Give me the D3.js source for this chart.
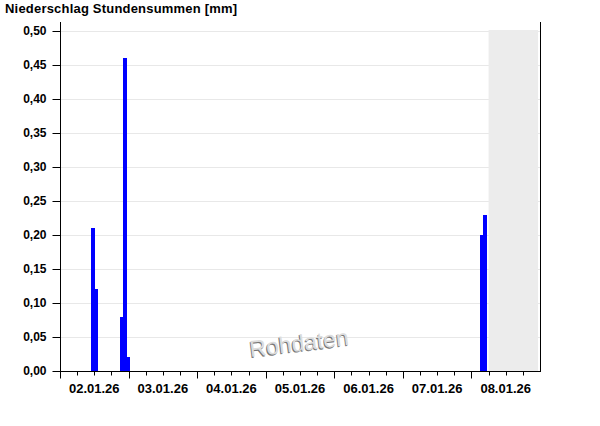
<!DOCTYPE html>
<meta charset="utf-8">
<style>
    body { margin: 0; background: #fff; }
    text { font-family: "Liberation Sans", Arial, sans-serif; font-weight: bold; fill: #000; }
</style>
<body>
<script src="https://cdn.jsdelivr.net/npm/d3@7"></script>
<script>
    // data
    var dayLabels = ["02.01.26", "03.01.26", "04.01.26", "05.01.26", "06.01.26", "07.01.26", "08.01.26"];
    var barTimes = ["2026-01-02T11:00Z", "2026-01-02T12:00Z", "2026-01-02T21:00Z", "2026-01-02T22:00Z",
                    "2026-01-02T23:00Z", "2026-01-08T03:00Z", "2026-01-08T04:00Z"];
    var barValues = [0.21, 0.12, 0.08, 0.46, 0.02, 0.20, 0.23];
    var yTicks = [0, 0.05, 0.10, 0.15, 0.20, 0.25, 0.30, 0.35, 0.40, 0.45, 0.50];
    var domainStart = "2026-01-02T00:00Z", domainEnd = "2026-01-09T00:00Z";
    var futureStart = "2026-01-08T06:00Z";

    var width = 600, height = 426;
    var mLeft = 60, mRight = 540, mTop = 31, mBottom = 371;

    var svg = d3.select("body").append("svg")
        .attr("width", width)
        .attr("height", height);

    var x = d3.scaleUtc()
        .domain([new Date(domainStart), new Date(domainEnd)])
        .range([mLeft, mRight]);

    var y = d3.scaleLinear()
        .domain([0, 0.5])
        .range([mBottom, mTop]);

    // title
    svg.append("text")
        .attr("x", 5)
        .attr("y", 13)
        .style("font-size", "13px")
        .style("letter-spacing", "0.2px")
        .text("Niederschlag Stundensummen [mm]");

    // gridlines
    svg.append("g").selectAll("line")
        .data(yTicks.filter(function (d) { return d > 0; }))
        .enter().append("line")
        .attr("x1", mLeft).attr("x2", mRight)
        .attr("y1", function (d) { return Math.round(y(d)) + 0.5; })
        .attr("y2", function (d) { return Math.round(y(d)) + 0.5; })
        .attr("stroke", "#e8e8e8");

    // not yet measured part
    svg.append("rect")
        .attr("x", x(new Date(futureStart)))
        .attr("y", mTop - 1)
        .attr("width", mRight - 2 - x(new Date(futureStart)))
        .attr("height", mBottom - mTop + 1)
        .attr("fill", "#ececec");

    // bars
    svg.append("g").selectAll("rect")
        .data(barValues)
        .enter().append("rect")
        .attr("x", function (d, i) { return Math.round(x(new Date(barTimes[i]))); })
        .attr("width", function (d, i) {
            var t = new Date(barTimes[i]);
            return Math.round(x(d3.utcHour.offset(t, 1))) - Math.round(x(t)) + 1;
        })
        .attr("y", function (d) { return Math.round(y(d)); })
        .attr("height", function (d) { return Math.round(y(0)) - Math.round(y(d)); })
        .attr("fill", "#0000ff")
        .attr("shape-rendering", "crispEdges");

    // watermark
    var wm = svg.append("g")
        .attr("transform", "translate(300,351) rotate(-7)");
    wm.append("text")
        .attr("text-anchor", "middle")
        .attr("x", -1).attr("y", 1)
        .style("font-weight", "normal")
        .style("font-size", "23px")
        .style("fill", "#777")
        .text("Rohdaten");
    wm.append("text")
        .attr("text-anchor", "middle")
        .style("font-weight", "normal")
        .style("font-size", "23px")
        .style("fill", "#dcdcdc")
        .text("Rohdaten");

    // y axis
    var yAxis = d3.axisLeft(y)
        .tickValues(yTicks)
        .tickSize(8)
        .tickPadding(6)
        .tickFormat(function (d) { return d3.format(".2f")(d).replace(".", ","); });
    var gy = svg.append("g")
        .attr("transform", "translate(" + (mLeft + 0.5) + ",0)")
        .call(yAxis);
    gy.select(".domain").remove();
    gy.selectAll("text").style("font-size", "12px").style("font-family", "Liberation Sans, Arial, sans-serif");
    gy.selectAll("line").attr("stroke", "#000");
    svg.append("line")
        .attr("x1", mLeft + 0.5).attr("x2", mLeft + 0.5)
        .attr("y1", 22).attr("y2", mBottom + 1)
        .attr("stroke", "#000");
    svg.append("line")
        .attr("x1", mRight + 0.5).attr("x2", mRight + 0.5)
        .attr("y1", 22).attr("y2", mBottom + 1)
        .attr("stroke", "#000");

    // x axis: major ticks at midnight, minor every 6h, labels at noon
    var gx = svg.append("g").attr("transform", "translate(0," + (mBottom + 0.5) + ")");
    gx.append("line")
        .attr("x1", mLeft).attr("x2", mRight + 1)
        .attr("stroke", "#000");
    gx.selectAll(".minor")
        .data(d3.utcHour.every(6).range(x.domain()[0], x.domain()[1]))
        .enter().append("line")
        .attr("class", "minor")
        .attr("x1", function (d) { return Math.round(x(d)) + 0.5; })
        .attr("x2", function (d) { return Math.round(x(d)) + 0.5; })
        .attr("y2", function (d) { return d.getUTCHours() === 0 ? 7 : 4; })
        .attr("stroke", "#000");
    gx.selectAll(".lab")
        .data(dayLabels)
        .enter().append("text")
        .attr("class", "lab")
        .attr("text-anchor", "middle")
        .attr("x", function (d, i) { return x(d3.utcHour.offset(new Date(domainStart), 24 * i + 12)); })
        .attr("y", 21)
        .style("font-size", "13px")
        .text(function (d) { return d; });
</script>
</body>
